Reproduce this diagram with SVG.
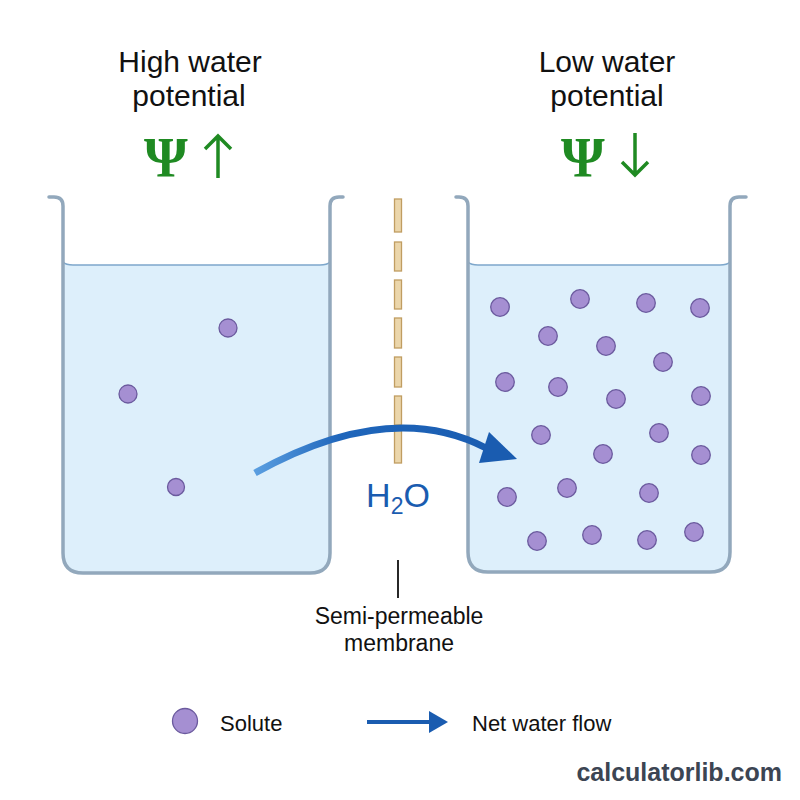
<svg xmlns="http://www.w3.org/2000/svg" width="800" height="800" viewBox="0 0 800 800">
<defs>
<style>
.t{font-family:"Liberation Sans",Arial,sans-serif;fill:#111;}
.title{font-size:30px;text-anchor:middle;}
.psi{font-family:"Liberation Serif","DejaVu Serif",serif;font-weight:bold;font-size:56px;fill:#1f8a22;}
.garrow{fill:none;stroke:#1f8a22;stroke-width:3.5;stroke-linecap:butt;}
.wall{fill:none;stroke:#92a8bc;stroke-width:3.5;stroke-linejoin:round;stroke-linecap:round;}
.water{fill:#ddeffb;}
.surf{fill:none;stroke:#7ea7cb;stroke-width:1.6;}
.sol{fill:#a58fd2;stroke:#6b5a9e;stroke-width:1.3;}
.dash{fill:#ebd6ab;stroke:#c09d61;stroke-width:1.3;}
.lbl{font-size:22px;}
</style>
<linearGradient id="flow" gradientUnits="userSpaceOnUse" x1="255" y1="0" x2="500" y2="0">
<stop offset="0" stop-color="#5a9ee0"/>
<stop offset="0.35" stop-color="#1f66bb"/>
<stop offset="1" stop-color="#1a5cb0"/>
</linearGradient>
</defs>
<rect width="800" height="800" fill="#ffffff"/>

<g id="left-title">
<text class="t title" x="190" y="72">High water</text>
<text class="t title" x="189" y="106">potential</text>
<text class="psi" x="144" y="177">Ψ</text>
<path class="garrow" d="M218,137 V178 M205,149 L218,136 L231,149"/>
</g>

<g id="right-title">
<text class="t title" x="607" y="72">Low water</text>
<text class="t title" x="607" y="106">potential</text>
<text class="psi" x="561" y="177">Ψ</text>
<path class="garrow" d="M635,133 V175 M622,162 L635,175 L648,162"/>
</g>

<g id="left-beaker">
<path class="water" d="M63,262 Q66,265 73,265 H320 Q327,265 330,262 V553 Q330,573 310,573 H83 Q63,573 63,553 Z"/>
<path class="surf" d="M63,262 Q66,265 73,265 H320 Q327,265 330,262"/>
<path class="wall" d="M49,197 H54 Q63,197 63,206 V553 Q63,573 83,573 H310 Q330,573 330,553 V206 Q330,197 339,197 H343"/>
<circle class="sol" cx="228" cy="328" r="9"/>
<circle class="sol" cx="128" cy="394" r="9"/>
<circle class="sol" cx="176" cy="487" r="8.5"/>
</g>

<g id="right-beaker">
<path class="water" d="M468,262 Q471,265 478,265 H720 Q727,265 730,262 V552 Q730,572 710,572 H488 Q468,572 468,552 Z"/>
<path class="surf" d="M468,262 Q471,265 478,265 H720 Q727,265 730,262"/>
<path class="wall" d="M456,197 H459 Q468,197 468,206 V552 Q468,572 488,572 H710 Q730,572 730,552 V206 Q730,197 739,197 H746"/>
<circle class="sol" cx="500" cy="307" r="9.3"/>
<circle class="sol" cx="580" cy="299" r="9.3"/>
<circle class="sol" cx="646" cy="303" r="9.3"/>
<circle class="sol" cx="700" cy="308" r="9.3"/>
<circle class="sol" cx="548" cy="336" r="9.3"/>
<circle class="sol" cx="606" cy="346" r="9.3"/>
<circle class="sol" cx="663" cy="362" r="9.3"/>
<circle class="sol" cx="505" cy="382" r="9.3"/>
<circle class="sol" cx="558" cy="387" r="9.3"/>
<circle class="sol" cx="616" cy="399" r="9.3"/>
<circle class="sol" cx="701" cy="396" r="9.3"/>
<circle class="sol" cx="541" cy="435" r="9.3"/>
<circle class="sol" cx="659" cy="433" r="9.3"/>
<circle class="sol" cx="603" cy="454" r="9.3"/>
<circle class="sol" cx="701" cy="455" r="9.3"/>
<circle class="sol" cx="507" cy="497" r="9.3"/>
<circle class="sol" cx="567" cy="488" r="9.3"/>
<circle class="sol" cx="649" cy="493" r="9.3"/>
<circle class="sol" cx="537" cy="541" r="9.3"/>
<circle class="sol" cx="592" cy="535" r="9.3"/>
<circle class="sol" cx="647" cy="540" r="9.3"/>
<circle class="sol" cx="694" cy="532" r="9.3"/>
</g>

<g id="membrane">
<rect class="dash" x="394.5" y="199" width="7" height="33"/>
<rect class="dash" x="394.5" y="242" width="7" height="29"/>
<rect class="dash" x="394.5" y="280" width="7" height="29"/>
<rect class="dash" x="394.5" y="318" width="7" height="30"/>
<rect class="dash" x="394.5" y="357" width="7" height="30"/>
<rect class="dash" x="394.5" y="396" width="7" height="29"/>
<rect class="dash" x="394.5" y="430" width="7" height="33"/>
<line x1="398" y1="560" x2="398" y2="598" stroke="#111" stroke-width="1.8"/>
<text class="t lbl" x="399" y="624" text-anchor="middle" font-size="23" style="font-size:23px">Semi-permeable</text>
<text class="t lbl" x="399" y="651" text-anchor="middle" style="font-size:23px">membrane</text>
</g>

<g id="connectors">
<path d="M255,473 Q390,398 486,448" fill="none" stroke="url(#flow)" stroke-width="7"/>
<polygon points="517,459 489,432 479,463" fill="#1a5cb0"/>
<text class="t" x="398" y="507" font-size="34" text-anchor="middle" style="fill:#1a5cb0">H<tspan font-size="23" dy="7">2</tspan><tspan dy="-7">O</tspan></text>
</g>

<g id="legend">
<circle class="sol" cx="185" cy="721" r="12.5"/>
<text class="t lbl" x="220" y="731">Solute</text>
<line x1="367" y1="722" x2="432" y2="722" stroke="#1a5cb0" stroke-width="4"/>
<polygon points="448,722 429,711 429,733" fill="#1a5cb0"/>
<text class="t lbl" x="472" y="731">Net water flow</text>
</g>

<text class="t" x="782" y="781" font-size="25" font-weight="bold" text-anchor="end" style="fill:#3c4553">calculatorlib.com</text>
</svg>
